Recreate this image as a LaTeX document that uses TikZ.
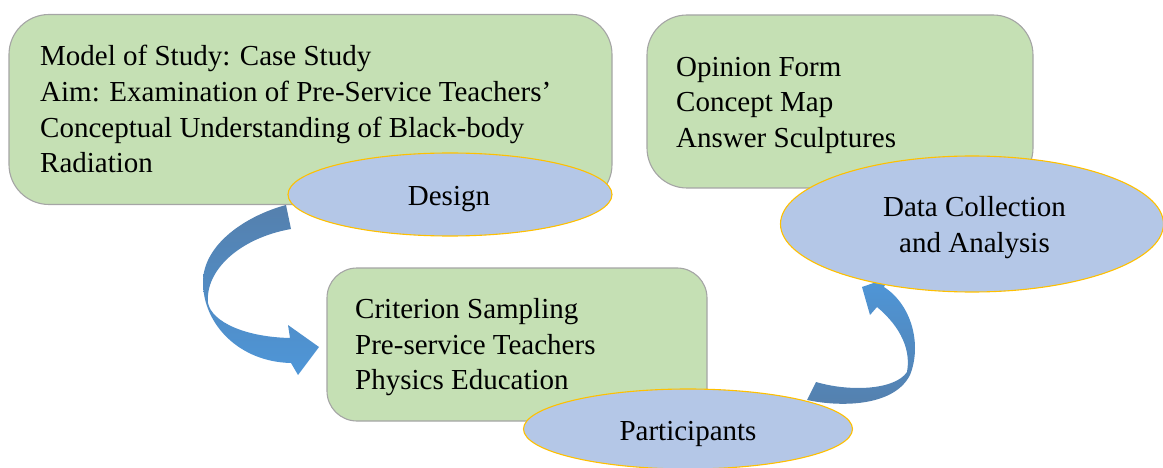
\documentclass[tikz,border=0pt]{standalone}
\usepackage{fontspec}
\setmainfont{Liberation Serif}
\usetikzlibrary{shapes.geometric}
\definecolor{boxgreen}{HTML}{C5E0B4}
\definecolor{boxline}{HTML}{A5A5A5}
\definecolor{ellblue}{HTML}{B4C7E7}
\definecolor{ellline}{HTML}{FFC000}
\definecolor{arrdark}{HTML}{5580AD}
\definecolor{arrlight}{HTML}{4E96D8}
\newcommand\diagfont{\fontsize{29}{35.7}\selectfont}
\tikzset{
  greenbox/.style={draw=boxline, fill=boxgreen, line width=1.1pt, rounded corners=#1, inner sep=0pt},
  linetext/.style={inner sep=0pt, anchor=base west, font=\diagfont},
  centertext/.style={inner sep=0pt, anchor=base, font=\diagfont},
  ellnode/.style={ellipse, draw=ellline, fill=ellblue, line width=1.1pt, inner sep=0pt},
  blockarrow/.style={draw=none}
}
\begin{document}
\begin{tikzpicture}[x=1pt,y=-1pt]
\useasboundingbox (0,0) rectangle (1163,468);
% boxes
\node[greenbox=40pt, minimum width=603pt, minimum height=190pt] (box1) at (310.5,109.5) {};
\node[greenbox=40pt, minimum width=386pt, minimum height=173pt] (box2) at (840,101.5) {};
\node[greenbox=30pt, minimum width=380pt, minimum height=153pt] (box3) at (517,344.5) {};
% box texts
\node[linetext] (b1a) at (40,66) {Model of Study: Case Study};
\node[linetext] (b1b) at (40,101.7) {Aim: Examination of Pre-Service Teachers’};
\node[linetext] (b1c) at (40,137.4) {Conceptual Understanding of Black-body};
\node[linetext] (b1d) at (40,173) {Radiation};
\node[linetext] (b2a) at (676,76.5) {Opinion Form};
\node[linetext] (b2b) at (676,112) {Concept Map};
\node[linetext] (b2c) at (676,147.5) {Answer Sculptures};
\node[linetext] (b3a) at (355,318.5) {Criterion Sampling};
\node[linetext] (b3b) at (355,354) {Pre-service Teachers};
\node[linetext] (b3c) at (355,389.5) {Physics Education};
% curved block arrows
\shade[blockarrow, top color=arrdark, bottom color=arrlight]
  (286,205) .. controls (245,216) and (203,245) .. (203,282)
  .. controls (203,325) and (240,362) .. (291,363)
  -- (298,375) -- (319,347) -- (288,325) -- (290,338)
  .. controls (245,337) and (212,322) .. (208,303)
  .. controls (205,270) and (240,238) .. (291,229) -- cycle;
\shade[blockarrow, top color=arrlight, bottom color=arrdark]
  (807,400) .. controls (845,408) and (895,405) .. (910,375)
  .. controls (922,345) and (912,305) .. (884,287)
  -- (888,278) -- (862,287) -- (870,315) -- (877,307)
  .. controls (895,322) and (912,345) .. (907,372)
  .. controls (895,390) and (850,392) .. (816,382) -- cycle;
% ellipses
\node[ellnode, minimum width=324pt, minimum height=83pt] (design) at (450,194.5) {};
\node[ellnode, minimum width=383pt, minimum height=136pt] (data) at (972,224) {};
\node[ellnode, minimum width=329pt, minimum height=80pt] (part) at (688,429) {};
\node[centertext] (designtxt) at (449,205) {Design};
\node[centertext] (datatxt1) at (974.5,217) {Data Collection};
\node[centertext] (datatxt2) at (974.5,252) {and Analysis};
\node[centertext] (parttxt) at (688,440) {Participants};
\end{tikzpicture}
\end{document}
